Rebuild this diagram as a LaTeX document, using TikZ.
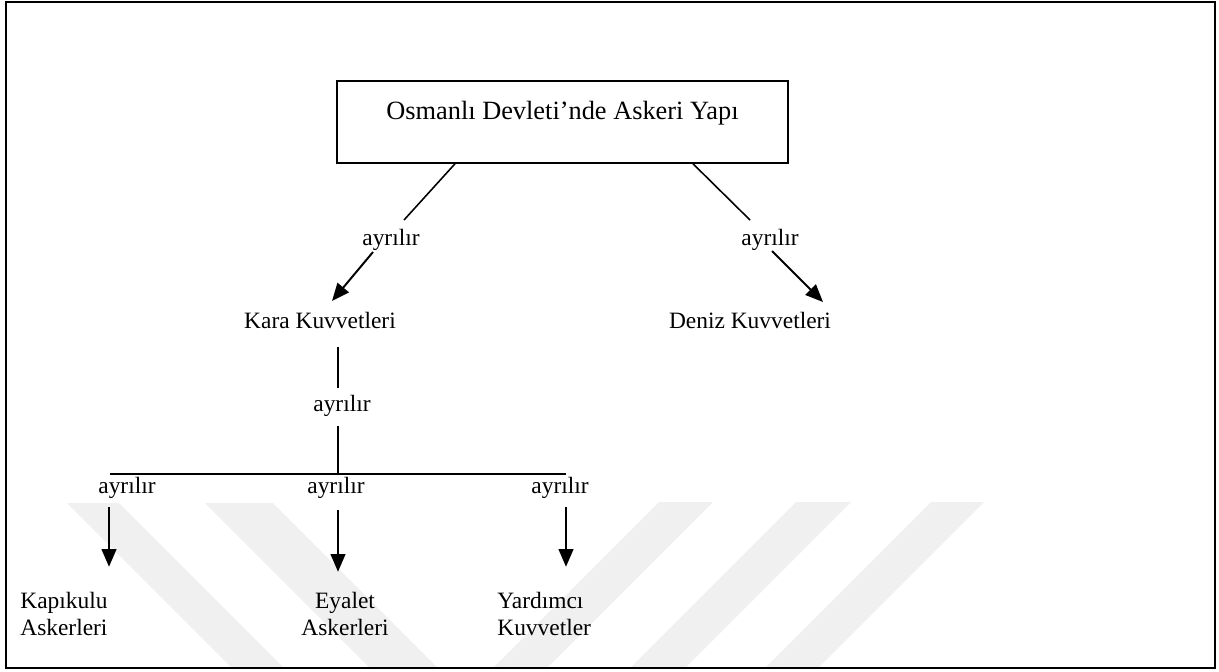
\documentclass[tikz,border=0pt]{standalone}
\usepackage{fontspec}
\setmainfont{Liberation Serif}
\usetikzlibrary{arrows.meta,calc}

\begin{document}
\begin{tikzpicture}[x=0.018cm,y=-0.018cm,
        split arrow/.style={
        arrows = {-{Triangle[length=9pt,width=7.5pt]}},
        line width=1pt
        },
        split line/.style={
                line width=0.8pt
            },
        rel/.style={
                inner sep=1pt,
                font=\fontsize{12}{14}\selectfont
            },
        part/.style={
                inner sep=1pt,
                font=\fontsize{12}{14}\selectfont
            },
        root box/.style={
                draw,
                line width=0.8pt,
                minimum width=231pt,
                inner xsep=0pt,
                inner ysep=0pt,
                text height=19.5pt,
                text depth=22.5pt,
                font=\fontsize{13.5}{16}\selectfont
            },
        wm band/.style={
                fill=black!6,
                draw=none
            }]
        \useasboundingbox (0,0) rectangle (1219,671);

        % faint watermark
        \fill [wm band] (67,503) -- (119,503) -- (283,667) -- (231,667) -- cycle;
        \fill [wm band] (205,503) -- (273,503) -- (437,667) -- (369,667) -- cycle;
        \fill [wm band] (659,502) -- (713,502) -- (548,667) -- (494,667) -- cycle;
        \fill [wm band] (796,502) -- (851,502) -- (686,667) -- (631,667) -- cycle;
        \fill [wm band] (931,502) -- (984,502) -- (819,667) -- (766,667) -- cycle;

        \draw [line width=1pt] (6,2) rectangle (1215,668);

        \node [root box] (root) at (562.5,122) {Osmanlı Devleti’nde Askeri Yapı};

        \node [rel] (ayrA) at (391,240) {ayrılır};
        \node [rel] (ayrB) at (770,240) {ayrılır};
        \node [part] (kara) at (320,320) {Kara Kuvvetleri};
        \node [part] (deniz) at (750,320) {Deniz Kuvvetleri};
        \node [rel] (ayrC) at (342,406) {ayrılır};
        \node [rel] (ayrD) at (127,488) {ayrılır};
        \node [rel] (ayrE) at (336,488) {ayrılır};
        \node [rel] (ayrF) at (560,488) {ayrılır};
        \node [part, align=left, anchor=west] (kapikulu) at (18,614) {Kapıkulu\\Askerleri};
        \node [part, align=center] (eyalet) at (345,614) {Eyalet\\Askerleri};
        \node [part, align=left, anchor=west] (yardimci) at (495,614) {Yardımcı\\Kuvvetler};

        \coordinate (fork) at ($(ayrC)+(-4,68)$);
        \coordinate (forkL) at ($(ayrD)+(-17,-14)$);
        \coordinate (forkR) at ($(ayrF)+(6,-14)$);

        \draw [split line] ($(root.south)+(-107.5,0)$) -- ($(ayrA)+(13,-20)$);
        \draw [split arrow] ($(ayrA)+(-18,12)$) -- ($(kara)+(12,-19)$);
        \draw [split line] ($(root.south)+(130.5,0)$) -- ($(ayrB)+(-20,-20)$);
        \draw [split arrow] ($(ayrB)+(2,11)$) -- ($(deniz)+(73,-18)$);

        \draw [split line] ($(kara)+(18,27)$) -- ($(ayrC)+(-4,-18)$);
        \draw [split line] ($(ayrC)+(-4,20)$) -- (fork);
        \draw [split line] (forkL) -- (forkR);

        \draw [split arrow] ($(ayrD)+(-18,19)$) -- ($(kapikulu.north west)+(91,-23)$);
        \draw [split arrow] ($(ayrE)+(2,22)$) -- ($(eyalet.north)+(-7,-18)$);
        \draw [split arrow] ($(ayrF)+(6,19)$) -- ($(yardimci.north west)+(71,-23)$);
    \end{tikzpicture}
\end{document}
